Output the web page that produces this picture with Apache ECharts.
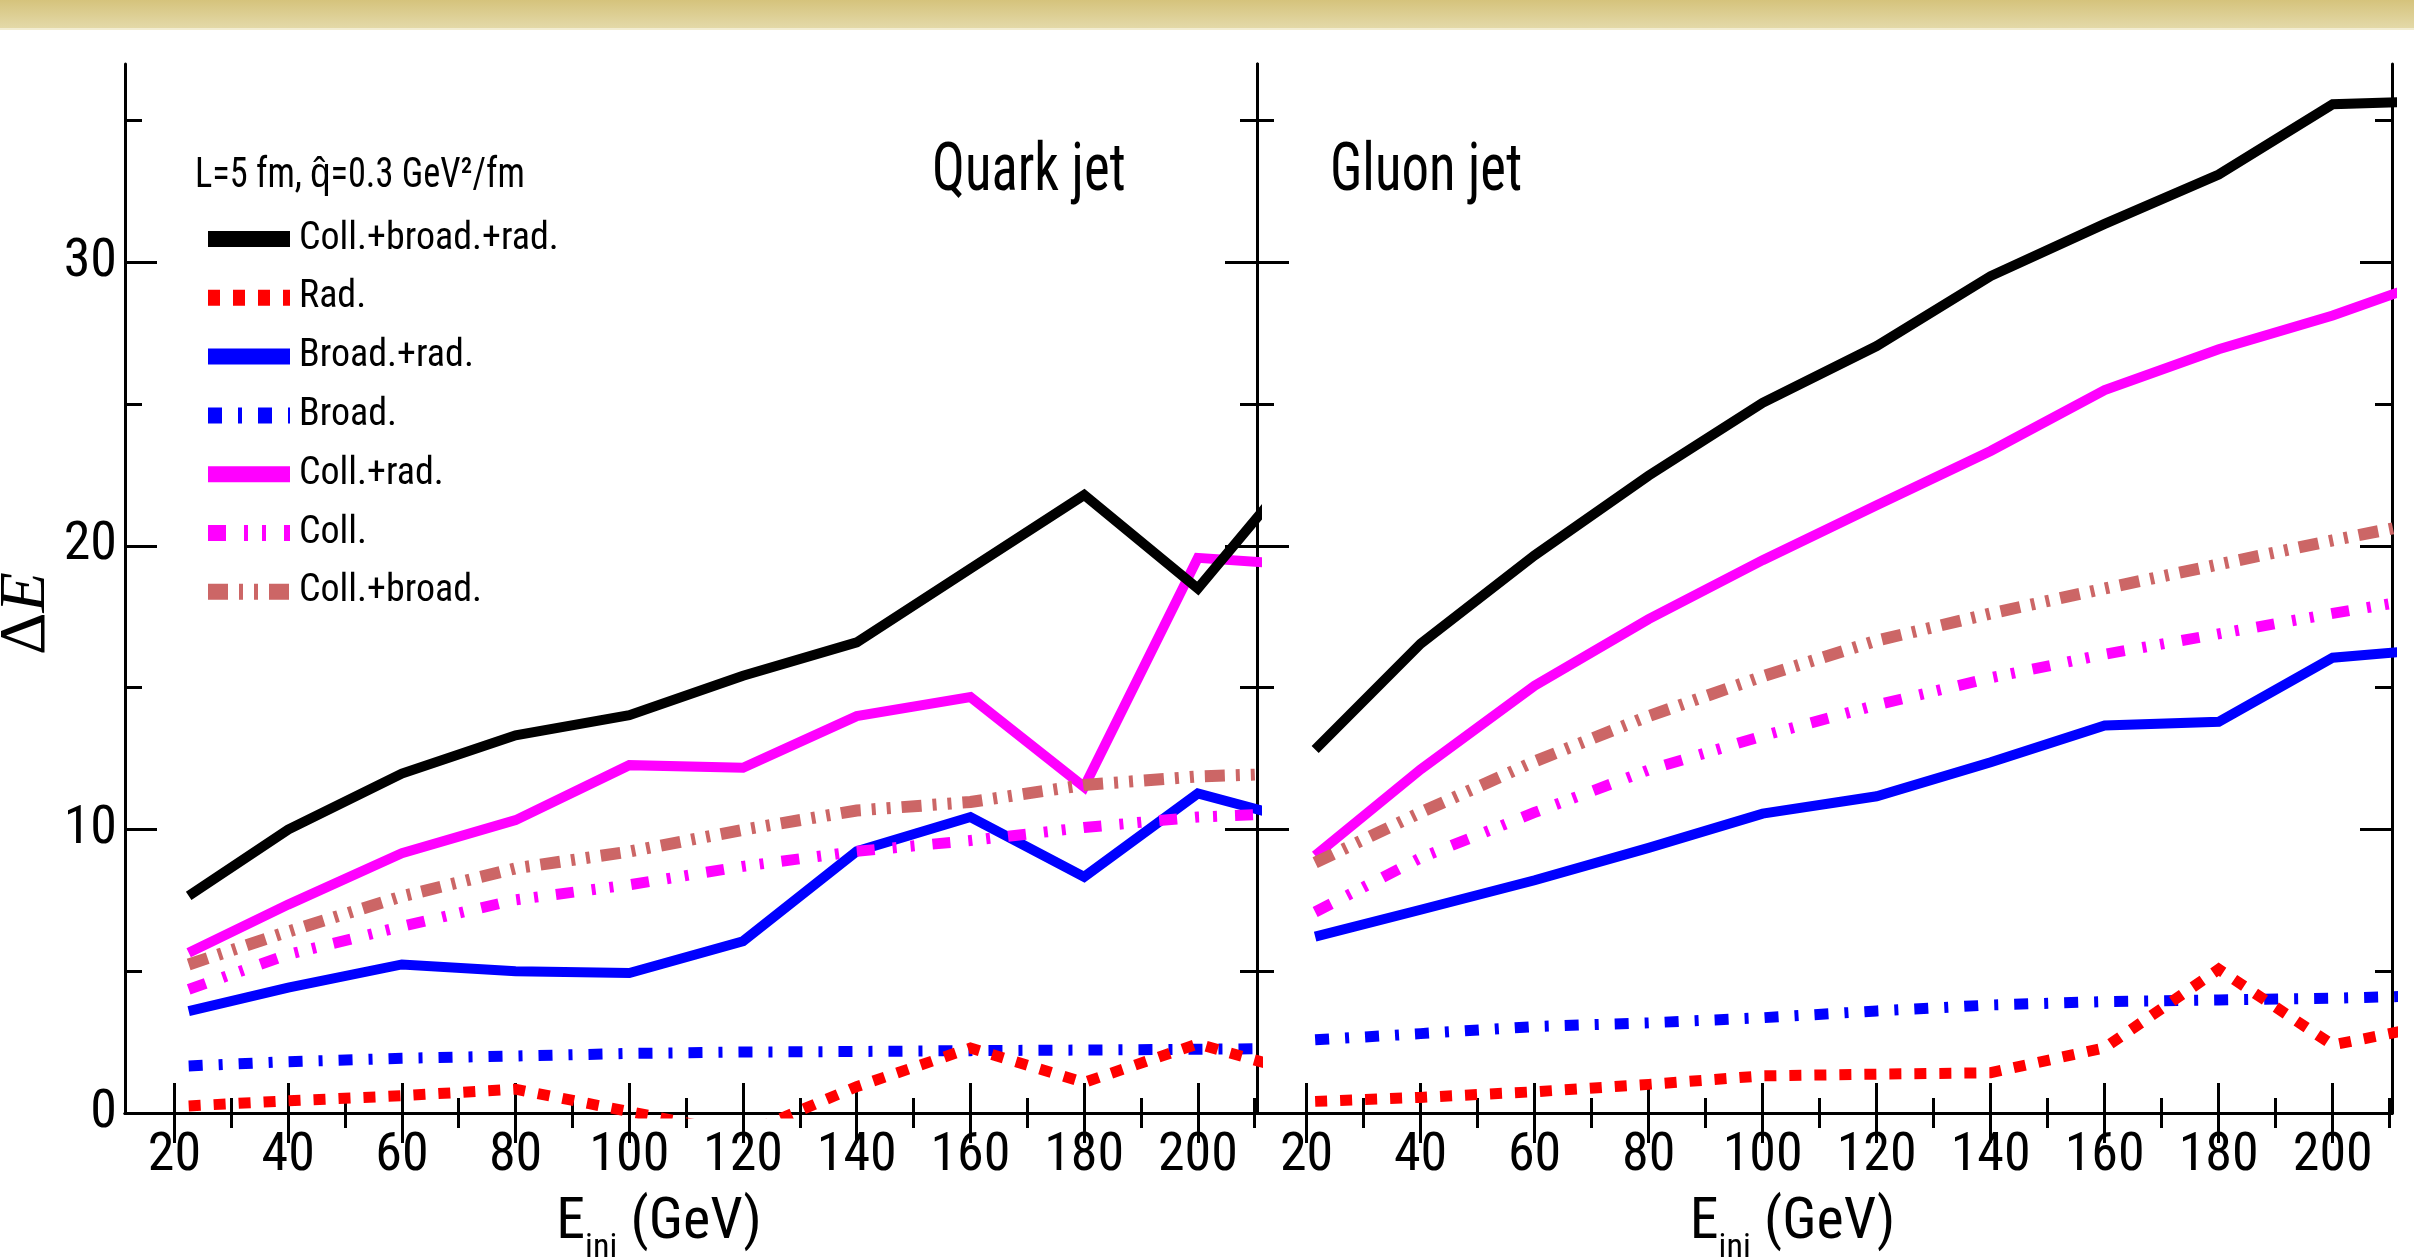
<!DOCTYPE html>
<html><head><meta charset="utf-8">
<script src="https://cdn.jsdelivr.net/npm/echarts@6/dist/echarts.min.js"></script>
<style>html,body{margin:0;padding:0;background:#fff;overflow:hidden}#c{width:2414px;height:1259px}</style>
</head><body><div id="c"></div><script>
// ---------------- data ----------------
const seriesNames = ['Coll.+broad.+rad.', 'Rad.', 'Broad.+rad.', 'Broad.', 'Coll.+rad.', 'Coll.', 'Coll.+broad.'];
const quarkE = [22.5, 40, 60, 80, 100, 120, 140, 160, 180, 200, 220];
const gluonE = [21.5, 40, 60, 80, 100, 120, 140, 160, 180, 200, 220];

const quarkCollBroadRad = [7.66, 10.0, 11.97, 13.32, 14.03, 15.42, 16.6, 19.2, 21.8, 18.5, 23.3];
const quarkRad          = [0.25, 0.43, 0.61, 0.84, 0.05, -0.75, 0.93, 2.29, 1.08, 2.44, 1.3];
const quarkBroadRad     = [3.59, 4.42, 5.24, 5.0, 4.94, 6.06, 9.23, 10.44, 8.33, 11.27, 10.2];
const quarkBroad        = [1.66, 1.81, 1.93, 2.01, 2.1, 2.15, 2.17, 2.2, 2.22, 2.25, 2.28];
const quarkCollRad      = [5.65, 7.35, 9.16, 10.33, 12.27, 12.18, 14.0, 14.67, 11.5, 19.58, 19.3];
const quarkColl         = [4.36, 5.59, 6.58, 7.52, 8.05, 8.7, 9.23, 9.61, 10.07, 10.44, 10.6];
const quarkCollBroad    = [5.24, 6.4, 7.64, 8.63, 9.22, 9.99, 10.67, 10.97, 11.57, 11.87, 12.0];

const gluonCollBroadRad = [12.82, 16.55, 19.67, 22.48, 25.05, 27.05, 29.52, 31.36, 33.1, 35.58, 35.7];
const gluonRad          = [0.41, 0.55, 0.75, 1.01, 1.31, 1.37, 1.42, 2.3, 5.07, 2.4, 3.2];
const gluonBroadRad     = [6.22, 7.17, 8.21, 9.35, 10.56, 11.17, 12.37, 13.67, 13.8, 16.06, 16.4];
const gluonBroad        = [2.58, 2.8, 3.05, 3.18, 3.36, 3.6, 3.81, 3.93, 3.99, 4.05, 4.15];
const gluonCollRad      = [9.08, 12.12, 15.07, 17.42, 19.5, 21.44, 23.35, 25.5, 26.94, 28.13, 29.55];
const gluonColl         = [7.09, 9.0, 10.6, 12.1, 13.3, 14.39, 15.35, 16.18, 16.9, 17.62, 18.3];
const gluonCollBroad    = [8.83, 10.6, 12.4, 14.0, 15.4, 16.66, 17.62, 18.5, 19.35, 20.2, 21.0];

const xMajorTicks = [20, 40, 60, 80, 100, 120, 140, 160, 180, 200];
const xMinorTicks = [30, 50, 70, 90, 110, 130, 150, 170, 190, 210];
const yMajorTicks = [0, 10, 20, 30];
const yMinorTicks = [5, 15, 25, 35];
const panelTitles = ['Quark jet', 'Gluon jet'];
const legendHeader = 'L=5 fm, q\u0302=0.3 GeV\u00B2/fm';

// ---------------- styles ----------------
const NARROW = "'Roboto Condensed', 'Liberation Sans', sans-serif";
const SERIF = "'Liberation Serif', 'DejaVu Serif', serif";
const X_MIN = 11.3, X_MAX = 210.4, Y_MIN = 0, Y_MAX = 37;

const styleMap = {
  'Coll.+broad.+rad.': {color: '#000000', width: 10, type: 'solid', z: 9},
  'Rad.':              {color: '#ff0000', width: 11, type: [12, 13], z: 8},
  'Broad.+rad.':       {color: '#0000ff', width: 10, type: 'solid', z: 3},
  'Broad.':            {color: '#0000ff', width: 11, type: [14, 16, 4, 16], z: 7},
  'Coll.+rad.':        {color: '#ff00ff', width: 10, type: 'solid', z: 4},
  'Coll.':             {color: '#ff00ff', width: 11, type: [18, 18, 4, 14, 4, 18], z: 6},
  'Coll.+broad.':      {color: '#cc6666', width: 12, type: [20, 11, 4, 11, 4, 11], z: 5}
};
const panelData = [
  {E: quarkE, vals: [quarkCollBroadRad, quarkRad, quarkBroadRad, quarkBroad, quarkCollRad, quarkColl, quarkCollBroad]},
  {E: gluonE, vals: [gluonCollBroadRad, gluonRad, gluonBroadRad, gluonBroad, gluonCollRad, gluonColl, gluonCollBroad]}
];

const grids = [
  {left: 125, top: 64, width: 1132, height: 1049, show: false, containLabel: false, outerBoundsMode: 'none'},
  {left: 1257, top: 64, width: 1135, height: 1049, show: false, containLabel: false, outerBoundsMode: 'none'}
];

const xAxes = [], yAxes = [];
const axisLineStyle = {color: '#000', width: 3};
function xAxis(g, pos, ticks, len, major, withLabels) {
  const ax = {
    type: 'value', gridIndex: g, position: pos, min: X_MIN, max: X_MAX,
    splitLine: {show: false},
    axisLine: {show: major, lineStyle: axisLineStyle},
    axisTick: {show: true, inside: true, length: len, customValues: ticks, lineStyle: {color: '#000', width: 3}},
    axisLabel: withLabels ? {show: true, customValues: xMajorTicks, fontFamily: NARROW, fontSize: 54, color: '#000', margin: 16}
                          : {show: false}
  };
  if (withLabels) {
    ax.name = '{m|E}{s|ini}{m| (GeV)}';
    ax.nameLocation = 'middle';
    ax.nameGap = 68;
    ax.nameTextStyle = {
      padding: [0, 64, 0, 0],
      rich: {
        m: {fontFamily: NARROW, fontSize: 58, color: '#000', lineHeight: 84, verticalAlign: 'middle'},
        s: {fontFamily: NARROW, fontSize: 34, color: '#000', lineHeight: 34, verticalAlign: 'bottom'}
      }
    };
  }
  xAxes.push(ax);
  return xAxes.length - 1;
}
function yAxis(g, pos, ticks, len, major, withLabels) {
  const ax = {
    type: 'value', gridIndex: g, position: pos, min: Y_MIN, max: Y_MAX,
    splitLine: {show: false},
    axisLine: {show: major, lineStyle: axisLineStyle},
    axisTick: {show: true, inside: true, length: len, customValues: ticks, lineStyle: {color: '#000', width: 3}},
    axisLabel: withLabels ? {show: true, customValues: yMajorTicks, fontFamily: NARROW, fontSize: 54, color: '#000', margin: 8}
                          : {show: false}
  };
  if (withLabels) {
    ax.name = '{d|\u0394}{e|E}';
    ax.nameLocation = 'middle';
    ax.nameGap = 58;
    ax.nameTextStyle = {
      padding: [0, 50, 0, 0],
      rich: {
        d: {fontFamily: SERIF, fontSize: 66, color: '#000'},
        e: {fontFamily: SERIF, fontSize: 66, fontStyle: 'italic', color: '#000'}
      }
    };
  }
  yAxes.push(ax);
  return yAxes.length - 1;
}

const series = [];
for (let g = 0; g < 2; g++) {
  const xi = xAxis(g, 'bottom', xMajorTicks, 30, true, true);
  xAxis(g, 'bottom', xMinorTicks, 15, false, false);
  xAxis(g, 'top', xMajorTicks, 30, true, false);
  xAxis(g, 'top', xMinorTicks, 15, false, false);
  const yi = yAxis(g, 'left', yMajorTicks, 32, true, g === 0);
  yAxis(g, 'left', yMinorTicks, 17, false, false);
  yAxis(g, 'right', yMajorTicks, 32, true, false);
  yAxis(g, 'right', yMinorTicks, 17, false, false);
  const pd = panelData[g];
  seriesNames.forEach((name, k) => {
    const st = styleMap[name];
    series.push({
      type: 'line', name: name, xAxisIndex: xi, yAxisIndex: yi,
      data: pd.E.map((e, i) => [e, pd.vals[k][i]]),
      symbol: 'none', showSymbol: false, clip: true, silent: true, z: st.z,
      lineStyle: {color: st.color, width: st.width, type: st.type, join: 'miter', cap: 'butt'},
      itemStyle: {color: st.color}
    });
  });
}

const chart = echarts.init(document.getElementById('c'), null, {renderer: 'canvas'});
chart.setOption({
  backgroundColor: '#ffffff',
  animation: false,
  grid: grids,
  xAxis: xAxes,
  yAxis: yAxes,
  legend: {
    data: seriesNames, orient: 'vertical', left: 200, top: 217,
    itemWidth: 82, itemHeight: 17, itemGap: 14.8, padding: 0,
    selectedMode: false,
    textStyle: {fontFamily: NARROW, fontSize: 38, color: '#000', lineHeight: 44, padding: [0, 0, 0, 4]},
    lineStyle: {width: 16},
    itemStyle: {opacity: 0}
  },
  graphic: [
    {type: 'rect', x: 0, y: 0, z: 100, shape: {width: 2414, height: 28},
     style: {fill: new echarts.graphic.LinearGradient(0, 0, 0, 1, [{offset: 0, color: '#d5c37c'}, {offset: 1, color: '#e3d9a8'}])}},
    {type: 'rect', x: 0, y: 28, z: 100, shape: {width: 2414, height: 2}, style: {fill: '#f2edd2'}},
    {type: 'text', x: 195, y: 176, z: 100, scaleX: 0.865, style: {text: legendHeader, fontFamily: NARROW, fontSize: 42, fill: '#000', align: 'left', verticalAlign: 'middle'}},
    {type: 'text', x: 932, y: 173, z: 100, scaleX: 0.83, style: {text: panelTitles[0], fontFamily: NARROW, fontSize: 66, fill: '#000', align: 'left', verticalAlign: 'middle'}},
    {type: 'text', x: 1330, y: 173, z: 100, scaleX: 0.83, style: {text: panelTitles[1], fontFamily: NARROW, fontSize: 66, fill: '#000', align: 'left', verticalAlign: 'middle'}}
  ],
  series: series
});
</script></body></html>
